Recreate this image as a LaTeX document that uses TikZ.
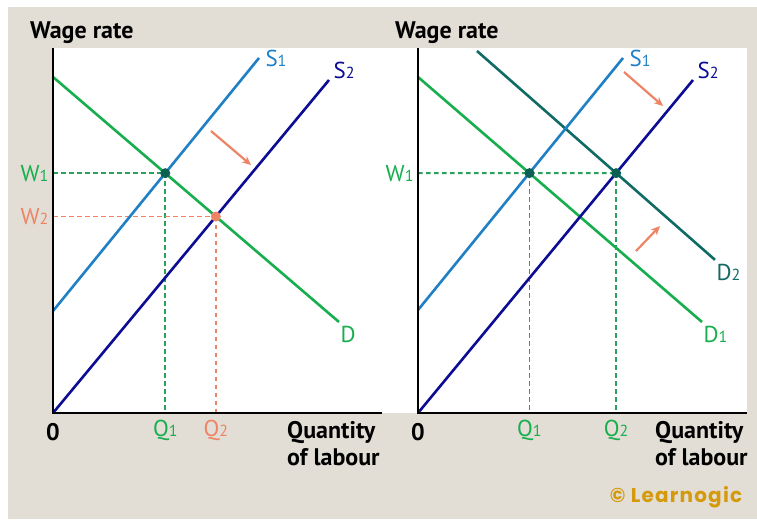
\documentclass[tikz,border=0pt]{standalone}
\usepackage{fontspec}
\setmainfont{PT Sans}
\newfontfamily\logofont[LetterSpace=6]{Poppins}
\usetikzlibrary{arrows.meta,positioning,calc}

\definecolor{bgbeige}{HTML}{E3DED5}
\definecolor{supone}{HTML}{1F80C6}
\definecolor{suptwo}{HTML}{0C0C94}
\definecolor{demgreen}{HTML}{17AE4E}
\definecolor{demteal}{HTML}{0F6B64}
\definecolor{salmon}{HTML}{EE8466}
\definecolor{dotteal}{HTML}{0B5F55}
\definecolor{guidegreen}{HTML}{2AA05C}
\definecolor{gold}{HTML}{D49A0C}

% small index digit, as printed
\newcommand{\ix}[1]{{\fontsize{16}{16}\selectfont #1}}

\begin{document}
\begin{tikzpicture}[x=1pt,y=-1pt,
    curve/.style={line width=2.6pt},
    guide/.style={line width=1.8pt,dash pattern=on 4.5pt off 3.5pt},
    shiftarrow/.style={salmon,line width=2.2pt,-{Stealth[length=9pt,width=8pt]}},
    lbl/.style={font=\fontsize{23}{23}\selectfont},
    axlbl/.style={font=\bfseries\fontsize{24}{27}\selectfont,align=left,inner sep=0pt}]
    \useasboundingbox (0,0) rectangle (757,519);
    \fill[white] (0,0) rectangle (757,519);
    \fill[bgbeige] (8,7) rectangle (757,519);
    \fill[white] (53,48) rectangle (747,413);

    % ---- left panel: supply increases
    \coordinate (lO) at (53,413);
    \coordinate (lTop) at (53,48);
    \coordinate (lEnd) at (382,413);
    \coordinate (lS1a) at (53,311);
    \coordinate (lS1b) at (259,58);
    \coordinate (lS2b) at (329,80);
    \coordinate (lDa) at (53,77);
    \coordinate (lDb) at (339,322);
    \coordinate (lE1) at (intersection of lS1a--lS1b and lDa--lDb);
    \coordinate (lE2) at (intersection of lO--lS2b and lDa--lDb);

    \draw[guide,guidegreen] (lE1 -| lO) -- (lE1);
    \draw[guide,guidegreen] (lE1) -- (lE1 |- lO);
    \draw[guide,salmon] (lE2 -| lO) -- (lE2);
    \draw[guide,salmon] (lE2) -- (lE2 |- lO);

    \draw[curve,demgreen] (lDa) -- (lDb);
    \draw[curve,supone] (lS1a) -- (lS1b);
    \draw[curve,suptwo] (lO) -- (lS2b);
    \draw[line width=2.6pt] (lTop) -- (lO) -- (lEnd);

    \fill[dotteal] (lE1) circle (5);
    \fill[salmon] (lE2) circle (5);

    \coordinate (lArrA) at (211,131);
    \coordinate (lArrB) at (251,165);
    \draw[shiftarrow] (lArrA) -- (lArrB);

    \node[lbl,text=supone,right=3pt] (lS1lbl) at (lS1b) {S\ix{1}};
    \node[lbl,text=suptwo,above right=-2pt and 1pt] (lS2lbl) at (lS2b) {S\ix{2}};
    \node[lbl,text=demgreen,below right=1pt and -2pt] (lDlbl) at (lDb) {D};
    \node[lbl,text=demgreen,left=1pt] (lW1) at (lE1 -| lO) {W\ix{1}};
    \node[lbl,text=salmon,left=1pt] (lW2) at (lE2 -| lO) {W\ix{2}};
    \node[lbl,text=demgreen,below=4pt] (lQ1) at (lE1 |- lO) {Q\ix{1}};
    \node[lbl,text=salmon,below=4pt] (lQ2) at (lE2 |- lO) {Q\ix{2}};
    \node[axlbl,below=10pt] (lZero) at (lO) {0};
    \node[axlbl,anchor=north west] (lQty) at (287,421) {Quantity\\of labour};
    \node[axlbl,anchor=base west] (lWage) at (30,38) {Wage rate};

    % ---- right panel: demand and supply increase
    \coordinate (rO) at (418,413);
    \coordinate (rTop) at (418,48);
    \coordinate (rEnd) at (747,413);
    \coordinate (rS1a) at (418,310);
    \coordinate (rS1b) at (623,58);
    \coordinate (rS2b) at (693,80);
    \coordinate (rD1a) at (418,77);
    \coordinate (rD1b) at (702,322);
    \coordinate (rE1) at (intersection of rS1a--rS1b and rD1a--rD1b);
    \coordinate (rE2) at (intersection of rO--rS2b and {rE1 -| rO}--{rE1 -| rEnd});
    \coordinate (rD2a) at (477,51);
    \coordinate (rD2b) at ($(rD2a)!1.71!(rE2)$);

    \draw[guide,guidegreen] (rE1 -| rO) -- (rE2);
    \draw[guide,guidegreen] (rE1) -- (rE1 |- rO);
    \draw[guide,guidegreen] (rE2) -- (rE2 |- rO);

    \draw[curve,demgreen] (rD1a) -- (rD1b);
    \draw[curve,demteal] (rD2a) -- (rD2b);
    \draw[curve,supone] (rS1a) -- (rS1b);
    \draw[curve,suptwo] (rO) -- (rS2b);
    \draw[line width=2.6pt] (rTop) -- (rO) -- (rEnd);

    \fill[dotteal] (rE1) circle (5);
    \fill[dotteal] (rE2) circle (5);

    \coordinate (rArrA) at (624,72);
    \coordinate (rArrB) at (663,106);
    \coordinate (rArrC) at (636,251);
    \coordinate (rArrD) at (660,226);
    \draw[shiftarrow] (rArrA) -- (rArrB);
    \draw[shiftarrow] (rArrC) -- (rArrD);

    \node[lbl,text=supone,right=3pt] (rS1lbl) at (rS1b) {S\ix{1}};
    \node[lbl,text=suptwo,above right=-2pt and 1pt] (rS2lbl) at (rS2b) {S\ix{2}};
    \node[lbl,text=demteal,below right=1pt and -2pt] (rD2lbl) at (rD2b) {D\ix{2}};
    \node[lbl,text=demgreen,below right=1pt and -2pt] (rD1lbl) at (rD1b) {D\ix{1}};
    \node[lbl,text=demgreen,left=1pt] (rW1) at (rE1 -| rO) {W\ix{1}};
    \node[lbl,text=demgreen,below=4pt] (rQ1) at (rE1 |- rO) {Q\ix{1}};
    \node[lbl,text=demgreen,below=4pt] (rQ2) at (rE2 |- rO) {Q\ix{2}};
    \node[axlbl,below=10pt] (rZero) at (rO) {0};
    \node[axlbl,anchor=north west] (rQty) at (655,421) {Quantity\\of labour};
    \node[axlbl,anchor=base west] (rWage) at (395,38) {Wage rate};

    \node[text=gold,font=\logofont\bfseries\fontsize{20}{20}\selectfont] (logo) at (676,497) {© Learnogic};
\end{tikzpicture}
\end{document}
